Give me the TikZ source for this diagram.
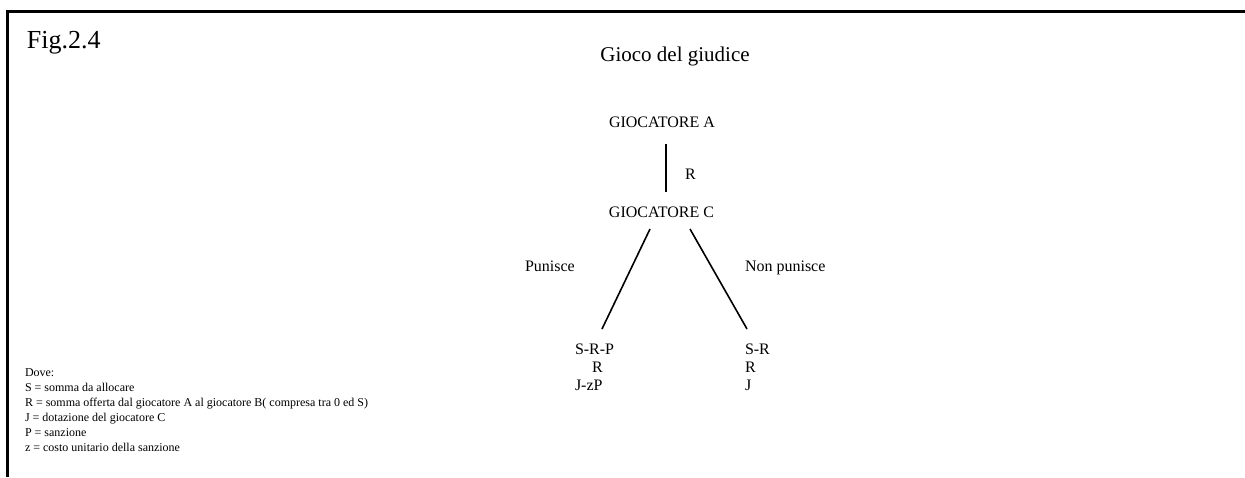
\documentclass[tikz,border=0pt]{standalone}
\usepackage{fontspec}
\setmainfont{Liberation Serif}
\begin{document}
\begin{tikzpicture}[x=1pt,y=-1pt,
  txt/.style={inner sep=0pt,outer sep=0pt},
  treetxt/.style={txt,font=\fontsize{16}{18}\selectfont},
  legtxt/.style={txt,font=\fontsize{12}{15}\selectfont,anchor=base west},
  branch/.style={line width=1.6pt},
  frameline/.style={line width=2.6pt}]
\useasboundingbox (0,0) rectangle (1245,477);

% open frame: top and left edges only
\coordinate (frTR) at (1245,11.3);
\coordinate (frTL) at (7.5,11.3);
\coordinate (frBL) at (7.5,477);
\draw[frameline] (frTR) -- (frTL) -- (frBL);

% headings
\node[txt,anchor=base west,font=\fontsize{26}{30}\selectfont] (fig) at (27,48) {Fig.2.4};
\node[txt,anchor=base,font=\fontsize{21}{24}\selectfont] (title) at (675,61) {Gioco del giudice};

% players
\node[treetxt,anchor=base] (pA) at (662,127) {GIOCATORE A};
\node[treetxt,anchor=base] (pC) at (661.5,217) {GIOCATORE C};

% move of A
\coordinate (aTop) at (666,144);
\coordinate (aBot) at (666,192);
\draw[branch] (aTop) -- (aBot);
\node[treetxt,anchor=base west] (lblR) at (685,179) {R};

% moves of C
\coordinate (lTop) at (650,229);
\coordinate (lEnd) at (602,329);
\coordinate (rTop) at (690,229);
\coordinate (rEnd) at (747,329);
\draw[branch] (lTop) -- (lEnd);
\draw[branch] (rTop) -- (rEnd);
\node[treetxt,anchor=base west] (lblP) at (525,271) {Punisce};
\node[treetxt,anchor=base west] (lblN) at (745,271) {Non punisce};

% payoffs after punishment
\node[treetxt,anchor=base west] (pl1) at (575,354) {S-R-P};
\node[treetxt,anchor=base west] (pl2) at (592,372) {R};
\node[treetxt,anchor=base west] (pl3) at (575,390) {J-zP};

% payoffs without punishment
\node[treetxt,anchor=base west] (pr1) at (745,354) {S-R};
\node[treetxt,anchor=base west] (pr2) at (745,372) {R};
\node[treetxt,anchor=base west] (pr3) at (745,390) {J};

% legend
\node[legtxt] (lg0) at (25,376.5) {Dove:};
\node[legtxt] (lg1) at (25,391.5) {S = somma da allocare};
\node[legtxt] (lg2) at (25,406.5) {R = somma offerta dal giocatore A al giocatore B( compresa tra 0 ed S)};
\node[legtxt] (lg3) at (25,421.5) {J = dotazione del giocatore C};
\node[legtxt] (lg4) at (25,436.5) {P = sanzione};
\node[legtxt] (lg5) at (25,451.5) {z = costo unitario della sanzione};
\end{tikzpicture}
\end{document}
